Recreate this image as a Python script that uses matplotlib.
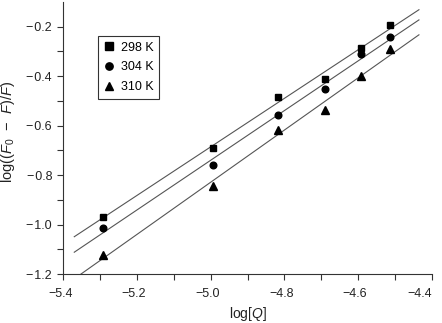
import numpy as np
import matplotlib
matplotlib.use("Agg")
import matplotlib.pyplot as plt
from matplotlib.transforms import ScaledTranslation

plt.rcParams['font.family'] = ['Liberation Sans', 'DejaVu Sans']
plt.rcParams['mathtext.fontset'] = 'custom'
plt.rcParams['mathtext.rm'] = 'Liberation Sans'
plt.rcParams['mathtext.it'] = 'Liberation Sans:italic'

logQ = [-5.293, -4.993, -4.816, -4.689, -4.593, -4.514]
y298 = [-0.968, -0.689, -0.484, -0.412, -0.285, -0.195]
y304 = [-1.013, -0.760, -0.558, -0.450, -0.309, -0.242]
y310 = [-1.122, -0.844, -0.618, -0.535, -0.398, -0.292]
labels = ['298 K', '304 K', '310 K']
markers = ['s', 'o', '^']
xtick_vals = [-5.4, -5.2, -5.0, -4.8, -4.6, -4.4]
ytick_vals = [-1.2, -1.0, -0.8, -0.6, -0.4, -0.2]

fig = plt.figure(figsize=(4.42, 3.23), dpi=100)
ax = fig.add_axes([0.143, 0.151, 0.834, 0.843])

xfit = np.array([-5.37, -4.435])
sizes = [4.6, 4.8, 5.2]
for ys, lab, m, s in zip([y298, y304, y310], labels, markers, sizes):
    k, b = np.polyfit(logQ, ys, 1)
    ax.plot(xfit, k * xfit + b, color='#555555', lw=0.8, zorder=1)
    ax.plot(logQ, ys, linestyle='none', marker=m, color='black', ms=s, label=lab, zorder=2)

ax.set_xlim(-5.4, -4.4)
ax.set_ylim(-1.2, -0.1)
ax.set_xticks(xtick_vals)
ax.set_xticks(np.arange(-5.3, -4.4, 0.2), minor=True)
ax.set_yticks(ytick_vals)
ax.set_yticks(np.arange(-1.1, -0.2, 0.2), minor=True)
ax.set_xticklabels(['\u2212%.1f' % abs(v) for v in xtick_vals])
ax.set_yticklabels(['\u2212\u200a%.1f' % abs(v) for v in ytick_vals])
ax.tick_params(which='both', direction='out', length=4, width=0.8, labelsize=9,
               color='#333333', labelcolor='#222222')
ax.tick_params(axis='x', which='both', pad=6)
ax.tick_params(axis='y', which='both', pad=4)
xtl = ax.get_xticklabels()
for t in xtl[:-1]:
    t.set_transform(t.get_transform() + ScaledTranslation(-3 / 100, 0, fig.dpi_scale_trans))
xtl[-1].set_horizontalalignment('right')
for s in ['top', 'right']:
    ax.spines[s].set_visible(False)
for s in ['left', 'bottom']:
    ax.spines[s].set_linewidth(0.8)
    ax.spines[s].set_color('#333333')

ax.set_xlabel(r'log[$Q$]', fontsize=10, color='#222222')
ax.xaxis.set_label_coords(0.5, -0.113)
ax.set_ylabel(r'log(($F_0$ $\,-\,$ $F$)/$F$)', fontsize=10.5, color='#222222')
ax.yaxis.set_label_coords(-0.125, 0.523)

leg = ax.legend(loc='upper left', bbox_to_anchor=(0.095, 0.875), borderaxespad=0,
                frameon=True, fancybox=False, edgecolor='black', fontsize=9,
                handlelength=0.9, handletextpad=0.45, borderpad=0.45,
                labelspacing=0.62, markerscale=1.1)
leg.get_frame().set_linewidth(0.8)

fig.savefig('out.png', dpi=100)
